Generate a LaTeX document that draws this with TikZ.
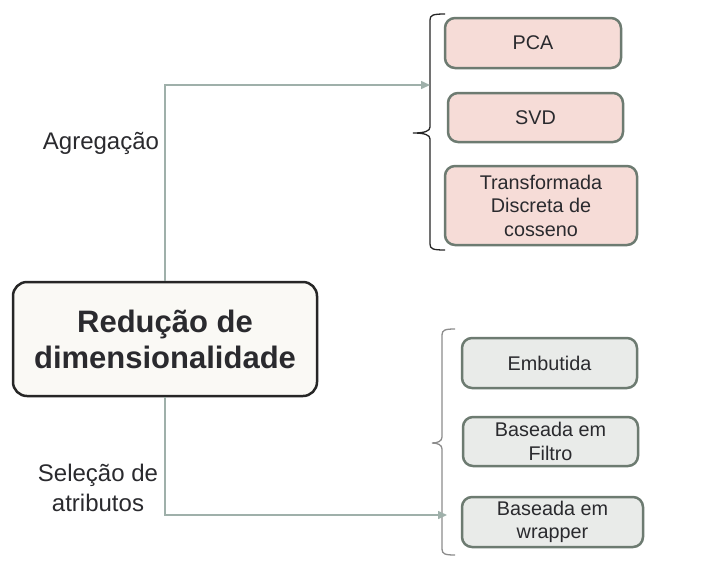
\documentclass[tikz,border=0pt]{standalone}
\usepackage{fontspec}
\setmainfont{Liberation Sans}
\usetikzlibrary{arrows.meta}
\definecolor{boxline}{HTML}{6D7B71}
\definecolor{pinkfill}{HTML}{F6DCD7}
\definecolor{greyfill}{HTML}{E9EBE9}
\definecolor{connc}{HTML}{9FB0AA}
\definecolor{txt}{HTML}{2A2A2E}
\definecolor{mainfill}{HTML}{FAF9F5}
\tikzset{
  leaf/.style={draw=boxline, line width=2.5pt, rounded corners=10pt, align=center, text=txt,
    font=\fontsize{19.8}{23.5}\selectfont, inner sep=0pt},
  pinkleaf/.style={leaf, fill=pinkfill},
  greyleaf/.style={leaf, fill=greyfill},
  conn/.style={draw=connc, line width=1.5pt, -{Triangle[length=9pt,width=8pt]}},
  brace/.style={line width=1.3pt},
  lbl/.style={align=center, text=txt, font=\fontsize{24}{30}\selectfont, inner sep=0pt}
}
\begin{document}
\begin{tikzpicture}[x=1pt,y=-1pt]
\useasboundingbox (0,0) rectangle (703,573);
\node[draw=black!85, fill=mainfill, line width=2.5pt, rounded corners=14pt, minimum width=304pt,
  minimum height=114pt, align=center, text=txt, font=\fontsize{31}{36}\selectfont\bfseries, inner sep=0pt]
  (main) at (165,339) {Redução de\\dimensionalidade};
\node[pinkleaf, minimum width=176pt, minimum height=50pt] (pca) at (533,43) {PCA};
\node[pinkleaf, minimum width=175pt, minimum height=49pt] (svd) at (535.5,117.5) {SVD};
\node[pinkleaf, minimum width=192pt, minimum height=79pt] (dct) at (541,205.5) {Transformada\\Discreta de\\cosseno};
\node[greyleaf, minimum width=175pt, minimum height=50pt] (emb) at (549.5,363) {Embutida};
\node[greyleaf, minimum width=175pt, minimum height=49pt] (filt) at (550.5,441.5) {Baseada em\\Filtro};
\node[greyleaf, minimum width=181pt, minimum height=50pt] (wrap) at (552.5,522) {Baseada em\\wrapper};
% braces
\draw[brace, draw=black!85] (445,14) .. controls (433,14) and (430,15) .. (430,20) -- (430,127)
  .. controls (430,131) and (425,133) .. (413,133) .. controls (425,133) and (430,135) .. (430,139)
  -- (430,244) .. controls (430,249) and (433,250) .. (445,250);
\draw[brace, draw=black!45] (455,329) .. controls (445,329) and (442,330) .. (442,335) -- (442,437)
  .. controls (442,441) and (438,443) .. (432,443) .. controls (438,443) and (442,445) .. (442,449)
  -- (442,549) .. controls (442,554) and (445,555) .. (455,555);
\coordinate (b1) at (430,85);
\coordinate (b2) at (447,515);
\draw[conn] (main.north) |- (b1);
\draw[conn] (main.south) |- (b2);
\node[lbl] (agr) at (101,143) {Agregação};
\node[lbl] (sel) at (98,488) {Seleção de\\atributos};
\end{tikzpicture}
\end{document}
